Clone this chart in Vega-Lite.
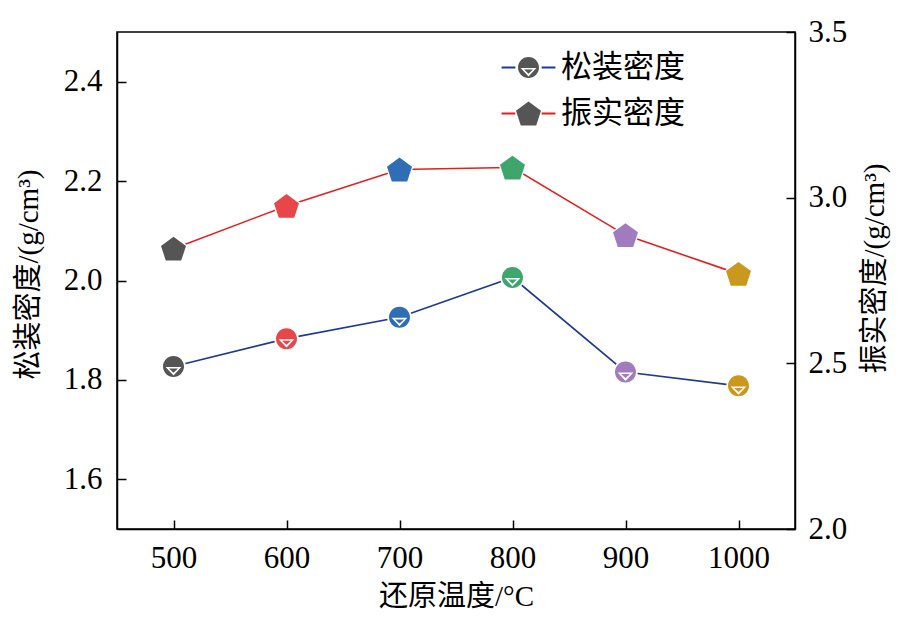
{
  "$schema": "https://vega.github.io/schema/vega-lite/v6.json",
  "width": 678,
  "height": 497,
  "autosize": {"type": "none"},
  "padding": {"left": 117, "top": 32, "right": 118, "bottom": 99},
  "background": "white",
  "data": {
    "values": [
      {"temp": 500, "series": "松装密度", "value": 1.827},
      {"temp": 600, "series": "松装密度", "value": 1.883},
      {"temp": 700, "series": "松装密度", "value": 1.926},
      {"temp": 800, "series": "松装密度", "value": 2.006},
      {"temp": 900, "series": "松装密度", "value": 1.816},
      {"temp": 1000, "series": "松装密度", "value": 1.788},
      {"temp": 500, "series": "振实密度", "value": 2.846},
      {"temp": 600, "series": "振实密度", "value": 2.975},
      {"temp": 700, "series": "振实密度", "value": 3.085},
      {"temp": 800, "series": "振实密度", "value": 3.091},
      {"temp": 900, "series": "振实密度", "value": 2.887},
      {"temp": 1000, "series": "振实密度", "value": 2.77}
    ]
  },
  "config": {
    "view": {"stroke": "black", "strokeWidth": 1.5},
    "axis": {
      "grid": false,
      "domainColor": "black",
      "domainWidth": 1.5,
      "tickColor": "black",
      "tickWidth": 1.5,
      "tickSize": -9,
      "labelFont": "Liberation Serif",
      "labelFontSize": 31,
      "labelColor": "black",
      "labelOverlap": false,
      "titleFont": "Liberation Serif, Noto Sans CJK SC",
      "titleFontSize": 29,
      "titleFontWeight": "normal",
      "titleColor": "black"
    },
    "legend": {
      "title": null,
      "orient": "none",
      "legendX": 396,
      "legendY": 20,
      "symbolSize": 690,
      "labelFont": "Noto Sans CJK SC",
      "labelFontSize": 31,
      "labelOffset": 17,
      "rowPadding": 14
    }
  },
  "layer": [
    {
      "transform": [{"filter": "datum.series === '松装密度'"}],
      "encoding": {
        "x": {
          "field": "temp",
          "type": "quantitative",
          "scale": {"domain": [450, 1050]},
          "axis": {
            "values": [500, 600, 700, 800, 900, 1000],
            "format": "d",
            "title": "还原温度/°C",
            "labelPadding": 23,
            "titleX": 339,
            "titleY": 67,
            "titleBaseline": "middle"
          }
        },
        "y": {
          "field": "value",
          "type": "quantitative",
          "scale": {"domain": [1.5, 2.5]},
          "axis": {
            "orient": "left",
            "values": [1.6, 1.8, 2.0, 2.2, 2.4],
            "format": ".1f",
            "title": "松装密度/(g/cm³)",
            "labelPadding": 24,
            "titleAngle": 270,
            "titleX": -89,
            "titleY": 242,
            "titleAlign": "center",
            "titleBaseline": "middle"
          }
        }
      },
      "layer": [
        {
          "mark": {"type": "line", "strokeWidth": 1.6},
          "encoding": {
            "color": {
              "field": "series",
              "type": "nominal",
              "sort": ["松装密度", "振实密度"],
              "scale": {"range": ["#1f3a93", "#e41f1f"]},
              "legend": {
                "symbolType": "M-2.05,0L-1,0M1,0L2.05,0",
                "symbolStrokeWidth": 2,
                "labelColor": "black"
              }
            }
          }
        },
        {"mark": {"type": "point", "filled": true, "opacity": 1, "color": "white", "shape": "circle", "size": 600}},
        {
          "mark": {"type": "point", "filled": true, "opacity": 1, "size": 690, "strokeWidth": 0},
          "encoding": {
            "fill": {
              "field": "temp",
              "type": "ordinal",
              "scale": {
                "domain": [500, 600, 700, 800, 900, 1000],
                "range": ["#555555", "#e8474a", "#2f6db5", "#3ea56c", "#a07cbf", "#c9981c"]
              },
              "legend": null
            },
            "shape": {
              "field": "series",
              "type": "nominal",
              "scale": {
                "domain": ["松装密度", "振实密度"],
                "range": [
                  "M0.8,0A0.8,0.8,0,1,1,-0.8,0A0.8,0.8,0,1,1,0.8,0ZM-0.6,0.04L0,0.68L0.6,0.04ZM-0.34,0.16L0.34,0.16L0,0.47Z",
                  "M0,-0.905L0.951,-0.214L0.588,0.905L-0.588,0.905L-0.951,-0.214Z"
                ]
              },
              "legend": {
                "symbolFillColor": "#555555",
                "symbolStrokeWidth": 0,
                "labelColor": "transparent"
              }
            }
          }
        }
      ]
    },
    {
      "transform": [{"filter": "datum.series === '振实密度'"}],
      "encoding": {
        "x": {
          "field": "temp",
          "type": "quantitative",
          "scale": {"domain": [450, 1050]},
          "axis": {
            "values": [500, 600, 700, 800, 900, 1000],
            "format": "d",
            "title": "还原温度/°C",
            "labelPadding": 23,
            "titleX": 339,
            "titleY": 67,
            "titleBaseline": "middle"
          }
        },
        "y": {
          "field": "value",
          "type": "quantitative",
          "scale": {"domain": [2.0, 3.5]},
          "axis": {
            "orient": "right",
            "values": [2.0, 2.5, 3.0, 3.5],
            "format": ".1f",
            "title": "振实密度/(g/cm³)",
            "labelPadding": 22,
            "titleAngle": 270,
            "titleX": 79,
            "titleY": 236,
            "titleAlign": "center",
            "titleBaseline": "middle"
          }
        }
      },
      "layer": [
        {
          "mark": {"type": "line", "strokeWidth": 1.6},
          "encoding": {
            "color": {"field": "series", "type": "nominal", "sort": ["松装密度", "振实密度"]}
          }
        },
        {"mark": {"type": "point", "filled": true, "opacity": 1, "color": "white", "size": 860, "shape": "M0,-0.905L0.951,-0.214L0.588,0.905L-0.588,0.905L-0.951,-0.214Z"}},
        {
          "mark": {"type": "point", "filled": true, "opacity": 1, "size": 690, "strokeWidth": 0},
          "encoding": {
            "fill": {"field": "temp", "type": "ordinal", "legend": null},
            "shape": {"field": "series", "type": "nominal"}
          }
        }
      ]
    }
  ],
  "resolve": {"scale": {"y": "independent"}}
}
